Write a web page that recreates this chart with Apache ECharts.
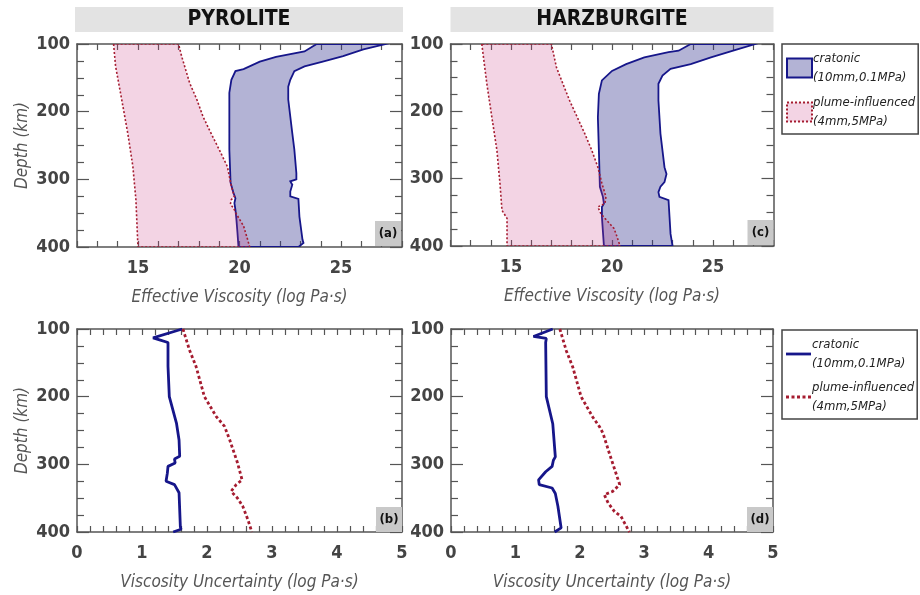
<!DOCTYPE html>
<html>
<head>
<meta charset="utf-8">
<script src="https://cdn.jsdelivr.net/npm/echarts@6/dist/echarts.min.js"></script>
<style>html,body{margin:0;padding:0;background:#fff}#c{width:920px;height:595px}</style>
</head>
<body>
<div id="c"></div>
<script>
// ---------- DATA ([log viscosity, depth km]) ----------
const pyrCratLeft = [[23.8,100],[23.2,111],[21.8,119],[21.0,126],[20.2,137],[19.8,140],[19.6,153],[19.5,172],[19.5,207],[19.5,256],[19.56,305],[19.7,320],[19.8,328],[19.75,335],[19.8,345],[19.85,360],[19.9,379],[19.95,400]];
const pyrCratRight = [[27.2,100],[26.1,108],[25.1,118],[24.1,126],[23.2,133],[22.7,140],[22.5,153],[22.4,163],[22.4,182],[22.6,232],[22.7,256],[22.8,291],[22.8,300],[22.5,303],[22.6,308],[22.5,318],[22.5,325],[22.9,329],[22.95,355],[23.1,389],[23.15,394],[22.9,400]];
const pyrPlumeLeft = [[13.8,100],[13.9,133],[14.2,182],[14.5,232],[14.75,281],[14.9,330],[14.97,379],[15.0,400]];
const pyrPlumeRight = [[17.0,100],[17.15,118],[17.55,158],[17.9,182],[18.2,207],[18.6,232],[19.0,256],[19.4,281],[19.6,310],[19.75,325],[19.6,330],[19.55,337],[19.7,342],[19.86,352],[20.2,369],[20.4,389],[20.5,400]];

const harCratLeft = [[23.9,100],[23.3,110],[22.8,112],[21.6,120],[20.7,130],[20.0,140],[19.5,154],[19.35,174],[19.3,209],[19.35,258],[19.4,312],[19.55,327],[19.6,337],[19.5,342],[19.5,357],[19.6,400]];
const harCratRight = [[27.1,100],[26.0,110],[24.9,120],[23.9,130],[22.9,137],[22.5,147],[22.3,159],[22.3,184],[22.4,233],[22.6,283],[22.7,293],[22.6,305],[22.4,312],[22.3,320],[22.35,327],[22.8,332],[22.85,357],[22.9,382],[23.0,400]];
const harPlumeLeft = [[13.55,100],[13.8,159],[14.05,209],[14.3,258],[14.45,307],[14.55,347],[14.8,359],[14.8,400]];
const harPlumeRight = [[17.0,100],[17.25,135],[17.9,184],[18.65,233],[19.0,258],[19.3,283],[19.5,307],[19.7,327],[19.65,337],[19.3,342],[19.45,352],[19.65,359],[20.1,374],[20.2,382],[20.4,400]];

// uncertainty ([log Pa s, depth km])
const pyrCratUnc = [[1.62,100],[1.17,113],[1.27,116],[1.40,120],[1.40,155],[1.42,200],[1.53,239],[1.57,264],[1.58,288],[1.50,292],[1.51,298],[1.40,303],[1.39,313],[1.37,325],[1.50,330],[1.57,342],[1.59,392],[1.60,396],[1.48,400]];
const pyrPlumeUnc = [[1.63,100],[1.73,131],[1.83,155],[1.96,200],[2.14,229],[2.27,244],[2.35,264],[2.47,298],[2.54,323],[2.45,330],[2.37,340],[2.47,350],[2.55,362],[2.63,382],[2.69,400]];
const harCratUnc = [[1.58,100],[1.28,111],[1.48,114],[1.47,120],[1.48,200],[1.58,240],[1.62,289],[1.59,294],[1.57,303],[1.47,311],[1.36,323],[1.37,330],[1.57,335],[1.62,343],[1.66,362],[1.71,394],[1.61,400]];
const harPlumeUnc = [[1.69,100],[1.79,132],[1.89,156],[2.02,200],[2.20,230],[2.31,245],[2.36,254],[2.46,284],[2.62,330],[2.51,340],[2.38,345],[2.44,357],[2.54,370],[2.64,377],[2.77,400]];

const depthTicks = [100, 200, 300, 400];
const viscLabels = [15, 20, 25];
const uncLabels = [0, 1, 2, 3, 4, 5];
const panelTitles = ['PYROLITE', 'HARZBURGITE'];
const panelTags = ['(a)', '(b)', '(c)', '(d)'];
const legendText = {
  crat_band: 'cratonic\n(10mm,0.1MPa)', plume_band: 'plume-influenced\n(4mm,5MPa)',
  crat_line: 'cratonic\n(10mm,0.1MPa)', plume_line: 'plume-influenced\n(4mm,5MPa)'
};

// ---------- STYLE ----------
const FONT = "'DejaVu Sans Condensed','Liberation Sans Narrow','DejaVu Sans',sans-serif";
const NAVY = '#16168a';
const RED = '#a51c30';
const BLUE_FILL = 'rgba(50,50,140,0.37)';
const PINK_FILL = 'rgba(200,60,130,0.22)';
const AX = '#555';

const grids = [
  {left: 77, top: 44, width: 325, height: 203},
  {left: 77, top: 329, width: 325, height: 203},
  {left: 450.5, top: 44, width: 323, height: 202},
  {left: 451, top: 329, width: 322, height: 203}
];

function poly(left, right) { return left.concat(right.slice().reverse()); }

function xAxes(g, min, max, interval, labels, name) {
  const base = {
    type: 'value', gridIndex: g, min, max, interval,
    axisLine: {show: true, onZero: false, lineStyle: {color: AX, width: 1.5}},
    axisTick: {show: true, inside: true, length: 6, lineStyle: {color: AX, width: 1.2}},
    splitLine: {show: false}
  };
  return [
    Object.assign({}, base, {
      position: 'bottom',
      axisLabel: {
        formatter: v => labels.some(l => Math.abs(l - v) < 1e-6) ? String(Math.round(v)) : '',
        fontSize: 18, fontWeight: 'bold', color: '#444', margin: 12, fontFamily: FONT
      },
      name, nameLocation: 'middle', nameGap: 42,
      nameTextStyle: {fontStyle: 'italic', fontSize: 17, color: '#555', fontFamily: FONT}
    }),
    Object.assign({}, base, {position: 'top', axisLabel: {show: false}})
  ];
}
function yAxes(g, withName) {
  const base = {
    type: 'value', gridIndex: g, min: 100, max: 400, interval: 100, inverse: true,
    axisLine: {show: true, onZero: false, lineStyle: {color: AX, width: 1.5}},
    axisTick: {show: true, inside: true, length: 12, lineStyle: {color: AX, width: 1.2}},
    minorTick: {show: true, splitNumber: 4, length: 7, lineStyle: {color: AX, width: 1.2}},
    splitLine: {show: false}, minorSplitLine: {show: false}
  };
  return [
    Object.assign({}, base, {
      position: 'left',
      axisLabel: {
        formatter: v => depthTicks.includes(Math.round(v)) ? String(Math.round(v)) : '',
        fontSize: 18, fontWeight: 'bold', color: '#444', margin: 7, fontFamily: FONT
      },
      name: withName ? 'Depth (km)' : '', nameLocation: 'middle', nameGap: 46,
      nameTextStyle: {fontStyle: 'italic', fontSize: 17, color: '#555', fontFamily: FONT}
    }),
    Object.assign({}, base, {position: 'right', axisLabel: {show: false}})
  ];
}

const xAxis = [].concat(
  xAxes(0, 12, 28, 1, viscLabels, 'Effective Viscosity (log Pa·s)'),
  xAxes(1, 0, 5, 0.2, uncLabels, 'Viscosity Uncertainty (log Pa·s)'),
  xAxes(2, 12, 28, 1, viscLabels, 'Effective Viscosity (log Pa·s)'),
  xAxes(3, 0, 5, 0.2, uncLabels, 'Viscosity Uncertainty (log Pa·s)')
);
const yAxis = [].concat(yAxes(0, true), yAxes(1, true), yAxes(2, false), yAxes(3, false));

function band(name, g, pts, fill, stroke, dash, width) {
  return {
    type: 'custom', name, xAxisIndex: 2 * g, yAxisIndex: 2 * g, clip: true,
    data: pts, encode: {x: 0, y: 1}, z: 2,
    itemStyle: {color: fill, borderColor: stroke},
    renderItem: function (params, api) {
      if (params.dataIndex !== 0) return;
      const points = pts.map(p => api.coord(p));
      return {
        type: 'polygon', shape: {points},
        style: {fill, stroke, lineWidth: width, lineDash: dash}
      };
    }
  };
}
function line(name, g, pts, color, type, width) {
  return {
    type: 'line', name, xAxisIndex: 2 * g, yAxisIndex: 2 * g, data: pts,
    symbol: 'none', smooth: false, clip: true, z: 3,
    lineStyle: {color, type, width}, itemStyle: {color}
  };
}

const series = [
  band('crat_band', 0, poly(pyrCratLeft, pyrCratRight), BLUE_FILL, NAVY, null, 1.8),
  band('plume_band', 0, poly(pyrPlumeLeft, pyrPlumeRight), PINK_FILL, RED, [2, 2], 1.6),
  band('crat_band', 2, poly(harCratLeft, harCratRight), BLUE_FILL, NAVY, null, 1.8),
  band('plume_band', 2, poly(harPlumeLeft, harPlumeRight), PINK_FILL, RED, [2, 2], 1.6),
  line('crat_line', 1, pyrCratUnc, NAVY, 'solid', 2.8),
  line('plume_line', 1, pyrPlumeUnc, RED, [3, 2.5], 2.8),
  line('crat_line', 3, harCratUnc, NAVY, 'solid', 2.8),
  line('plume_line', 3, harPlumeUnc, RED, [3, 2.5], 2.8)
];

const legendBase = {
  orient: 'vertical', left: 782, itemWidth: 25, itemHeight: 19, itemGap: 6,
  padding: [5, 3, 3, 4], borderColor: '#444', borderWidth: 1.5, backgroundColor: '#fff',
  selectedMode: false,
  formatter: n => legendText[n],
  textStyle: {fontStyle: 'italic', fontSize: 13, lineHeight: 19, color: '#222', fontFamily: FONT, padding: [0, 0, 0, -4]}
};

const graphic = [];
const titleBoxes = [{x: 75, w: 328, cx: 239}, {x: 450.5, w: 323, cx: 612}];
titleBoxes.forEach((t, i) => {
  graphic.push({type: 'rect', shape: {x: t.x, y: 7, width: t.w, height: 25}, style: {fill: '#e3e3e3'}, silent: true});
  graphic.push({type: 'text', x: t.cx, y: 20, style: {text: panelTitles[i], font: 'bold 21px ' + FONT, fill: '#111', align: 'center', verticalAlign: 'middle'}, silent: true});
});
const tagBoxes = [{x: 375, y: 221}, {x: 376, y: 507}, {x: 747.5, y: 220}, {x: 747, y: 507}];
tagBoxes.forEach((b, i) => {
  graphic.push({type: 'rect', shape: {x: b.x, y: b.y, width: 26, height: 25}, style: {fill: '#c9c9c9'}, silent: true, z: 10});
  graphic.push({type: 'text', x: b.x + 13, y: b.y + 13, style: {text: panelTags[i], font: 'bold 13px ' + FONT, fill: '#111', align: 'center', verticalAlign: 'middle'}, silent: true, z: 11});
});

const solidIcon = 'path://M0,0h25v2.8h-25z';
const dotIcon = 'path://M0,0h3v2.8h-3zM5.5,0h3v2.8h-3zM11,0h3v2.8h-3zM16.5,0h3v2.8h-3zM22,0h3v2.8h-3z';

const chart = echarts.init(document.getElementById('c'), null, {renderer: 'canvas'});
chart.setOption({
  animation: false,
  backgroundColor: '#fff',
  grid: grids,
  xAxis, yAxis, series, graphic,
  legend: [
    Object.assign({}, legendBase, {
      top: 44,
      data: [
        {name: 'crat_band', icon: 'rect', itemStyle: {color: BLUE_FILL, borderColor: NAVY, borderWidth: 2}},
        {name: 'plume_band', icon: 'rect', itemStyle: {color: PINK_FILL, borderColor: RED, borderWidth: 2, borderType: 'dotted'}}
      ]
    }),
    Object.assign({}, legendBase, {
      top: 330, itemGap: 5,
      data: [
        {name: 'crat_line', icon: solidIcon, itemStyle: {color: NAVY, borderWidth: 0}},
        {name: 'plume_line', icon: dotIcon, itemStyle: {color: RED, borderWidth: 0}}
      ]
    })
  ]
});
</script>
</body>
</html>
